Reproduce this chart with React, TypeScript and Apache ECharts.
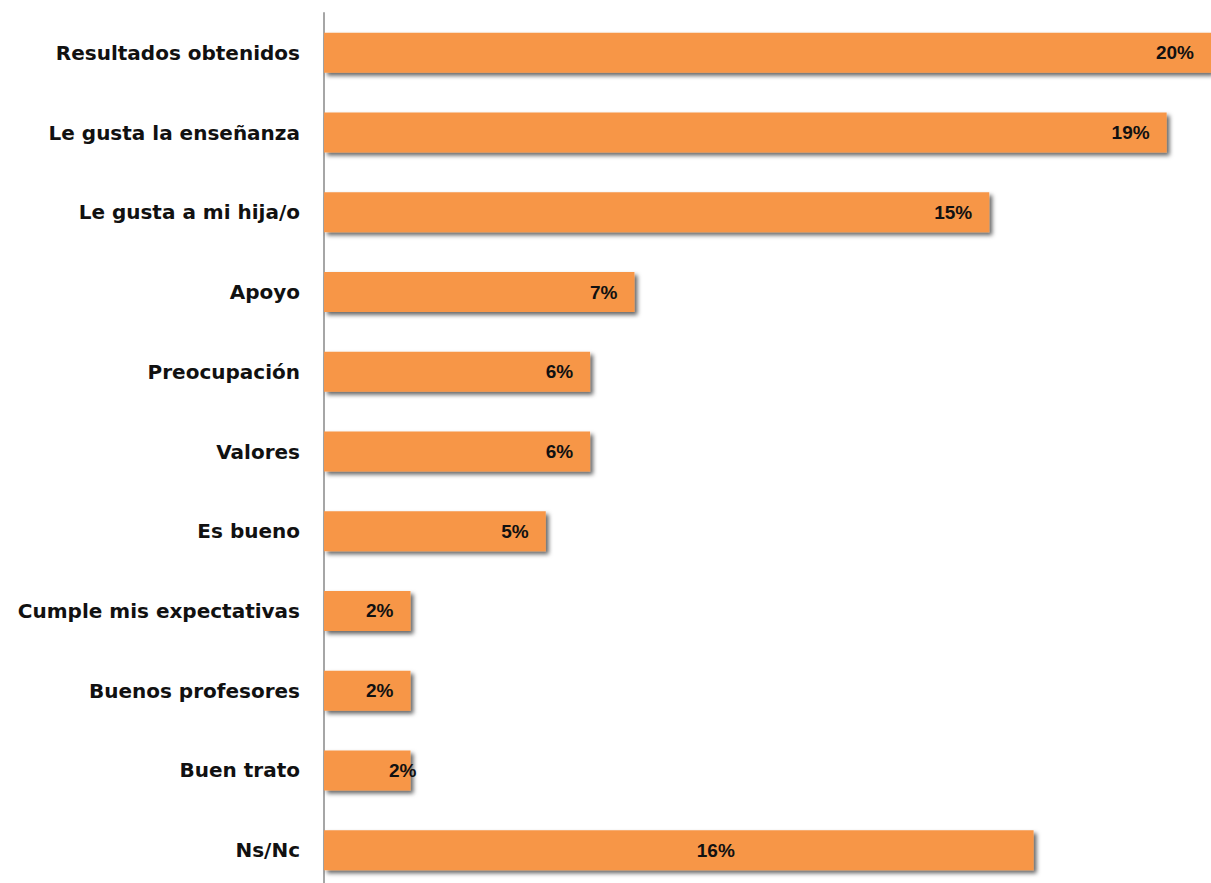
import React, { useEffect, useRef } from "react";
import * as echarts from "echarts";

const categories = [
  "Resultados obtenidos",
  "Le gusta la enseñanza",
  "Le gusta a mi hija/o",
  "Apoyo",
  "Preocupación",
  "Valores",
  "Es bueno",
  "Cumple mis expectativas",
  "Buenos profesores",
  "Buen trato",
  "Ns/Nc",
];

const values = [20, 19, 15, 7, 6, 6, 5, 1.95, 1.95, 1.95, 16];

const xMax = 20;

export default function App() {
  const ref = useRef<HTMLDivElement>(null);

  useEffect(() => {
    if (!ref.current) return;
    const chart = echarts.init(ref.current, null, { renderer: "svg" });

    const labelOverrides: Record<number, any> = {
      9: { offset: [23, 0] },
      10: { position: "inside", offset: [37, 0] },
    };

    const data = values.map((v, i) =>
      labelOverrides[i] ? { value: v, label: labelOverrides[i] } : v
    );

    chart.setOption({
      animation: false,
      backgroundColor: "#ffffff",
      grid: { left: 324, top: 13, width: 887, height: 877, containLabel: false },
      xAxis: {
        type: "value",
        min: 0,
        max: xMax,
        show: false,
        splitLine: { show: false },
      },
      yAxis: {
        type: "category",
        data: categories,
        inverse: true,
        axisLine: { show: true, lineStyle: { color: "#a6a6a6", width: 2 } },
        axisTick: { show: false },
        axisLabel: {
          margin: 24,
          fontSize: 20,
          fontWeight: "bold",
          fontFamily: "DejaVu Sans",
          color: "#111111",
        },
      },
      series: [
        {
          type: "bar",
          data,
          barWidth: 40,
          itemStyle: {
            color: "#f79646",
            shadowColor: "rgba(0,0,0,0.6)",
            shadowBlur: 4,
            shadowOffsetX: 3,
            shadowOffsetY: 3,
          },
          label: {
            show: true,
            position: "insideRight",
            distance: 17,
            formatter: (p: any) => Math.round(p.value) + "%",
            fontFamily: "Liberation Sans",
            fontWeight: "bold",
            fontSize: 19,
            color: "#111111",
          },
        },
      ],
    });

    return () => chart.dispose();
  }, []);

  return (
    <div
      style={{
        position: "fixed",
        left: 0,
        top: 0,
        width: 1211,
        height: 883,
        overflow: "hidden",
      }}
    >
      <div ref={ref} style={{ width: 1211, height: 900 }} />
    </div>
  );
}
